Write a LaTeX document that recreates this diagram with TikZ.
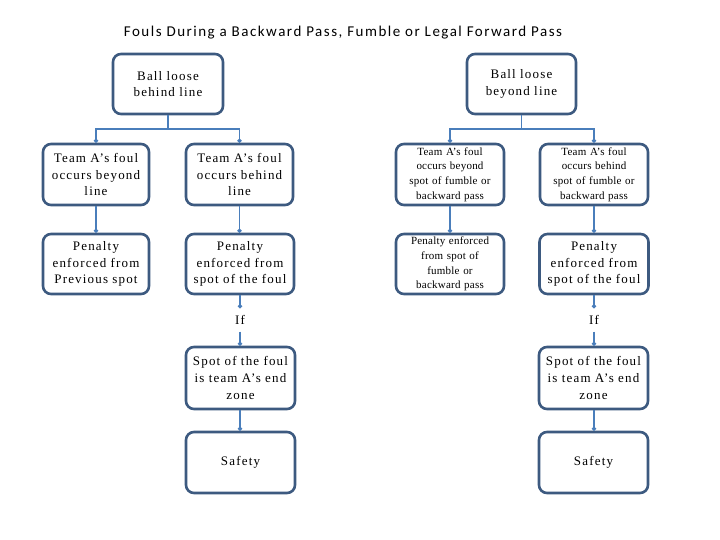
\documentclass[tikz,border=0pt]{standalone}
\usepackage{fontspec}
\setmainfont{Liberation Serif}
\newfontfamily\titlefont[LetterSpace=10]{Carlito}
\newfontfamily\boxfont[LetterSpace=9]{Liberation Serif}
\newfontfamily\smallboxfont[LetterSpace=2]{Liberation Serif}
\usetikzlibrary{arrows.meta}
\definecolor{boxline}{HTML}{3D5A80}
\definecolor{conn}{HTML}{4A7EBB}
\tikzset{
  box/.style={draw=boxline, line width=2.6pt, rounded corners=8pt, fill=white,
    align=center, inner sep=2pt, font=\boxfont\fontsize{13}{16.8}\selectfont},
  smallbox/.style={box, font=\smallboxfont\fontsize{11}{14.6}\selectfont},
  conline/.style={draw=conn, line width=1.6pt, -{Circle[length=4pt]}},
  plainline/.style={draw=conn, line width=1.6pt},
  iftext/.style={font=\boxfont\fontsize{13}{15}\selectfont, minimum height=23pt, inner sep=0pt}
}
\begin{document}
\begin{tikzpicture}[x=1pt,y=-1pt]
\useasboundingbox (0,0) rectangle (720,540);
\node[font=\titlefont\fontsize{15}{18}\selectfont] (title) at (343,33) {Fouls During a Backward Pass, Fumble or Legal Forward Pass};

\node[box, minimum width=110pt, minimum height=60pt, text width=104pt] (b1) at (168,84) {Ball loose\\behind line};
\node[box, minimum width=109pt, minimum height=60pt, text width=104pt] (b2) at (521.5,84) {Ball loose\\beyond line};

\node[box, minimum width=106pt, minimum height=61pt, text width=102pt] (l1) at (96,174.5) {Team A’s foul\\occurs beyond\\line};
\node[box, minimum width=107pt, minimum height=61pt, text width=102pt] (l2) at (239.5,174.5) {Team A’s foul\\occurs behind\\line};
\node[smallbox, minimum width=108pt, minimum height=61pt, text width=104pt] (r1) at (450,174.5) {Team A’s foul\\occurs beyond\\spot of fumble or\\backward pass};
\node[smallbox, minimum width=108pt, minimum height=61pt, text width=104pt] (r2) at (594,174.5) {Team A’s foul\\occurs behind\\spot of fumble or\\backward pass};

\node[box, minimum width=106pt, minimum height=60pt, text width=102pt] (l3) at (96,264) {Penalty\\enforced from\\Previous spot};
\node[box, minimum width=108pt, minimum height=60pt, text width=104pt] (l4) at (240,264) {Penalty\\enforced from\\spot of the foul};
\node[smallbox, minimum width=108pt, minimum height=60pt, text width=104pt] (r3) at (450,264) {Penalty enforced\\from spot of\\fumble or\\backward pass};
\node[box, minimum width=109pt, minimum height=60pt, text width=104pt] (r4) at (594,264) {Penalty\\enforced from\\spot of the foul};

\node[iftext] (if1) at (240,320) {If};
\node[iftext] (if2) at (594,320) {If};

\node[box, minimum width=109pt, minimum height=62pt, text width=104pt] (s1) at (240.5,378) {Spot of the foul\\is team A’s end\\zone};
\node[box, minimum width=109pt, minimum height=62pt, text width=104pt] (s2) at (593.5,378) {Spot of the foul\\is team A’s end\\zone};

\node[box, minimum width=109pt, minimum height=61pt, text width=104pt] (f1) at (240.5,462.5) {Safety};
\node[box, minimum width=109pt, minimum height=61pt, text width=104pt] (f2) at (593.5,462.5) {Safety};

\coordinate (j1) at (168,129);
\coordinate (j2) at (521.5,129);
\draw[plainline] (b1.south) -- (j1);
\draw[conline] (j1) -| (l1.north);
\draw[conline] (j1) -| (l2.north);
\draw[plainline] (b2.south) -- (j2);
\draw[conline] (j2) -| (r1.north);
\draw[conline] (j2) -| (r2.north);

\draw[conline] (l1.south) -- (l3.north);
\draw[conline] (l2.south) -- (l2.south |- l4.north);
\draw[conline] (r1.south) -- (r3.north);
\draw[conline] (r2.south) -- (r4.north);

\draw[conline] (l4.south) -- (if1.north);
\draw[conline] (if1.south) -- (if1.south |- s1.north);
\draw[conline] (r4.south) -- (if2.north);
\draw[conline] (if2.south) -- (if2.south |- s2.north);

\draw[conline] (s1.south -| if1.south) -- (if1.south |- f1.north);
\draw[conline] (s2.south -| if2.south) -- (if2.south |- f2.north);
\end{tikzpicture}
\end{document}
